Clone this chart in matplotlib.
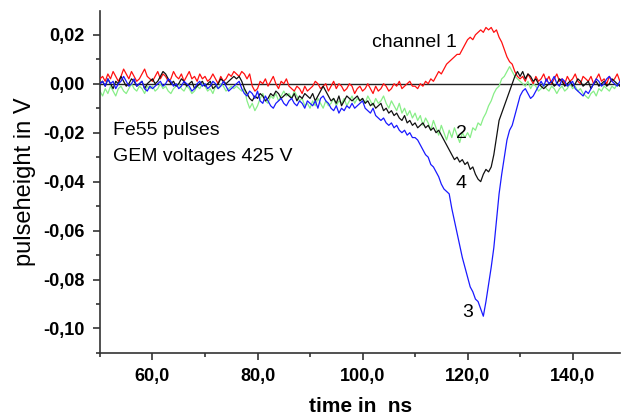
import numpy as np
import matplotlib.pyplot as plt
from matplotlib.ticker import MultipleLocator, FuncFormatter

plt.rcParams['font.family'] = ['Liberation Sans', 'DejaVu Sans']

# Amostragem: 0,5 ns, de 50 a 150 ns (em mV)
tempo_ns = np.arange(50, 150.5, 0.5)

canal1_mv = [
    2, 3, 1, 4, 2, 5, 3, 1, 3, 6, 4, 2, 5, 3, 1, 2, 4, 6, 3, 2,            # 50
    1, 3, 5, 2, 4, 3, 1, 2, 5, 3, 2, 4, 1, 3, 5, 2, 3, 1, 4, 2,            # 60
    3, 1, 2, 4, 2, 0, 3, 1, 2, 4, 3, 5, 4, 3, 5, 4, 2, 4, -1, -3,          # 70
    -2, 1, 0, 2, -1, 1, 3, 0, -2, 1, 0, 2, -1, -2, -3, -1, -2, -4, -1, -3, # 80
    -2, -1, 1, 0, -2, -1, 0, -3, -1, 1, -2, 0, -1, -3, -2, 0, -1, -4, -2, -1,  # 90
    -3, -2, 0, -2, -4, -1, -3, -2, 0, -1, -3, -2, 0, -1, 1, -2, -1, 0, 1, -1,  # 100
    -1, -2, 0, -1, 1, 0, 2, 1, 3, 5, 4, 6, 8, 9, 10, 11, 12, 12, 14, 16,       # 110
    18, 19, 18, 20, 21, 22, 21, 23, 22, 23, 21, 22, 19, 17, 14, 11, 9, 8, 5, 3,  # 120
    2, 3, 1, 4, 2, 0, 3, 1, 2, 4, 1, 3, 0, 2, 4, 1, 2, 0, 3, 1,            # 130
    2, 4, 1, 0, 3, 2, 1, 3, 0, 2, 4, 1, 2, 0, 3, 1, 2, 4, 1, 2,            # 140
    1,
]

canal2_mv = [
    -3, -5, -2, -4, -1, -3, -5, -2, -1, -3, -4, -2, 0, -2, -3, -1, -2, -4, -1, -2,
    -1, -3, -2, 0, -2, -1, -3, -4, -2, -1, 0, -2, -3, -1, -2, -4, -3, -1, -2, 0,
    -1, -3, -2, -4, -1, -2, 0, -1, -3, -2, -1, -2, -1, -2, -3, -2, -7, -10, -8, -11,
    -9, -6, -4, -7, -8, -5, -6, -4, -7, -5, -3, -5, -4, -6, -3, -5, -7, -6, -9, -8,
    -10, -7, -9, -6, -8, -10, -7, -9, -8, -6, -9, -7, -8, -6, -9, -7, -5, -8, -6, -7,
    -6, -8, -5, -7, -9, -6, -8, -7, -5, -8, -10, -7, -9, -11, -8, -12, -10, -13, -11, -14,
    -12, -15, -13, -17, -14, -16, -19, -15, -18, -21, -17, -20, -23, -19, -22, -18, -21, -24, -20, -22,
    -20, -22, -18, -19, -16, -17, -14, -12, -9, -7, -4, -2, -1, 2, 3, 5, 7, 5, 3, 2,
    1, 0, -1, 1, -2, 0, -1, -3, -2, 0, -2, -3, -1, -2, -4, -2, -1, -3, -2, 0,
    -2, -1, -3, -2, -4, -5, -6, -4, -3, -5, -2, -3, -1, -2, -3, -1, -2, 0, -1, -2,
    -1,
]

canal3_mv = [
    0, 1, -1, 2, 0, 1, -2, 0, 1, 3, 1, -1, 0, 2, -1, 0, 1, -2, -3, -1,
    -2, -1, 0, 1, -1, 0, 2, 1, -1, 0, -2, -1, 1, 0, -1, -3, -2, 0, 1, -1,
    0, -2, -1, 1, 0, -2, -1, 1, -1, -3, -2, -1, 0, 1, -2, -4, -5, -3, -4, -6,
    -3, -7, -8, -5, -7, -9, -10, -8, -7, -6, -8, -9, -7, -6, -8, -9, -7, -8, -10, -7,
    -8, -9, -7, -10, -6, -5, -7, -8, -10, -11, -9, -12, -10, -11, -9, -10, -8, -10, -9, -8,
    -7, -10, -11, -12, -10, -13, -14, -15, -14, -16, -17, -16, -18, -17, -19, -20, -19, -21, -20, -22,
    -22, -23, -25, -27, -29, -30, -33, -34, -36, -38, -41, -43, -44, -45, -51, -56, -61, -66, -71, -75,
    -79, -83, -85, -88, -89, -92, -95, -89, -82, -75, -67, -56, -45, -37, -30, -23, -19, -17, -13, -9,
    -5, -3, -2, -4, -6, -5, -3, -1, 1, -1, 2, 0, 1, 3, 0, -1, 2, 1, -1, 0,
    1, -2, -3, -4, -5, -3, -4, -2, 0, 2, 1, -1, 0, 2, 3, 1, 0, -1, 1, 2,
    1,
]

canal4_mv = [
    0, 1, -1, 2, 0, -2, 1, 0, 3, 1, -1, 0, 2, 1, -1, 0, 1, -2, 0, 1,
    2, 0, 1, 3, 5, 4, 2, 0, 1, -1, 0, 2, 1, -1, 0, 1, -2, -1, 0, 1,
    -1, 0, 1, -2, -1, 0, 2, 1, 0, 1, 2, 3, 2, 3, 1, -2, -4, -6, -7, -5,
    -6, -4, -5, -7, -6, -4, -5, -3, -4, -6, -5, -4, -5, -6, -4, -7, -5, -6, -4, -5,
    -6, -4, -7, -5, -3, -1, -3, -5, -7, -6, -8, -5, -9, -7, -5, -6, -7, -6, -5, -7,
    -6, -8, -7, -9, -8, -10, -9, -8, -11, -10, -12, -11, -13, -12, -14, -15, -13, -16, -15, -17,
    -16, -18, -17, -16, -18, -17, -19, -18, -20, -19, -21, -23, -25, -27, -29, -31, -30, -32, -31, -33,
    -32, -35, -34, -37, -39, -40, -37, -35, -36, -34, -29, -22, -15, -12, -9, -6, -3, 0, 3, 5,
    3, 5, 2, 4, 3, 1, 2, 0, -1, -2, -1, 0, 1, -1, 0, 2, 1, -1, 0, 1,
    -1, 0, 2, 1, -1, 0, 1, -2, 0, 1, -1, 0, 1, -1, 0, 2, 1, 0, -1, 1,
    0,
]

# mV -> V
canal1 = np.array(canal1_mv) / 1000
canal2 = np.array(canal2_mv) / 1000
canal3 = np.array(canal3_mv) / 1000
canal4 = np.array(canal4_mv) / 1000


def virgula(v, pos, casas):
    s = f"{v:.{casas}f}"
    if s.startswith('-') and float(s) == 0:
        s = s[1:]
    return s.replace('.', ',')


fig = plt.figure(figsize=(6.21, 4.16), dpi=100)
ax = fig.add_axes([0.161, 0.151, 0.838, 0.823])

ax.axhline(0, color='#222222', linewidth=1.0, zorder=1)
ax.plot(tempo_ns, canal2, color='#88ee88', linewidth=0.9, zorder=2)
ax.plot(tempo_ns, canal1, color='#ff1010', linewidth=0.9, zorder=3)
ax.plot(tempo_ns, canal4, color='#111111', linewidth=0.9, zorder=4)
ax.plot(tempo_ns, canal3, color='#1a1aff', linewidth=0.9, zorder=5)

ax.set_xlim(50, 149.1)
ax.set_ylim(-0.1101, 0.0298)

# Eixos no estilo Origin: só esquerda e baixo, ticks para fora
for lado in ['top', 'right']:
    ax.spines[lado].set_visible(False)
for lado in ['left', 'bottom']:
    ax.spines[lado].set_linewidth(1.2)
    ax.spines[lado].set_color('#333333')

ax.xaxis.set_major_locator(MultipleLocator(20))
ax.xaxis.set_minor_locator(MultipleLocator(10))
ax.yaxis.set_major_locator(MultipleLocator(0.02))
ax.yaxis.set_minor_locator(MultipleLocator(0.01))
ax.xaxis.set_major_formatter(FuncFormatter(lambda v, p: virgula(v, p, 1)))
ax.yaxis.set_major_formatter(FuncFormatter(lambda v, p: virgula(v, p, 2)))
ax.set_xticks([60, 80, 100, 120, 140])
ax.tick_params(which='major', direction='out', length=5, width=1.2, color='#333333',
               labelsize=13, pad=6)
ax.tick_params(which='minor', direction='out', length=3, width=1.2, color='#333333')
for lbl in ax.get_xticklabels() + ax.get_yticklabels():
    lbl.set_fontweight('bold')

ax.set_xlabel('time in  ns', fontsize=15, fontweight='bold', labelpad=8)
ax.set_ylabel('pulseheight in V', fontsize=17, labelpad=5)

ax.text(101.8, 0.0169, 'channel 1', fontsize=14, va='center', ha='left')
ax.text(118.9, -0.0203, '2', fontsize=14, va='center', ha='center')
ax.text(118.7, -0.0408, '4', fontsize=14, va='center', ha='center')
ax.text(120.0, -0.0935, '3', fontsize=14, va='center', ha='center')
ax.text(52.5, -0.019, 'Fe55 pulses', fontsize=14, va='center', ha='left')
ax.text(52.5, -0.0297, 'GEM voltages 425 V', fontsize=14, va='center', ha='left')

fig.savefig('out.png', dpi=100)
